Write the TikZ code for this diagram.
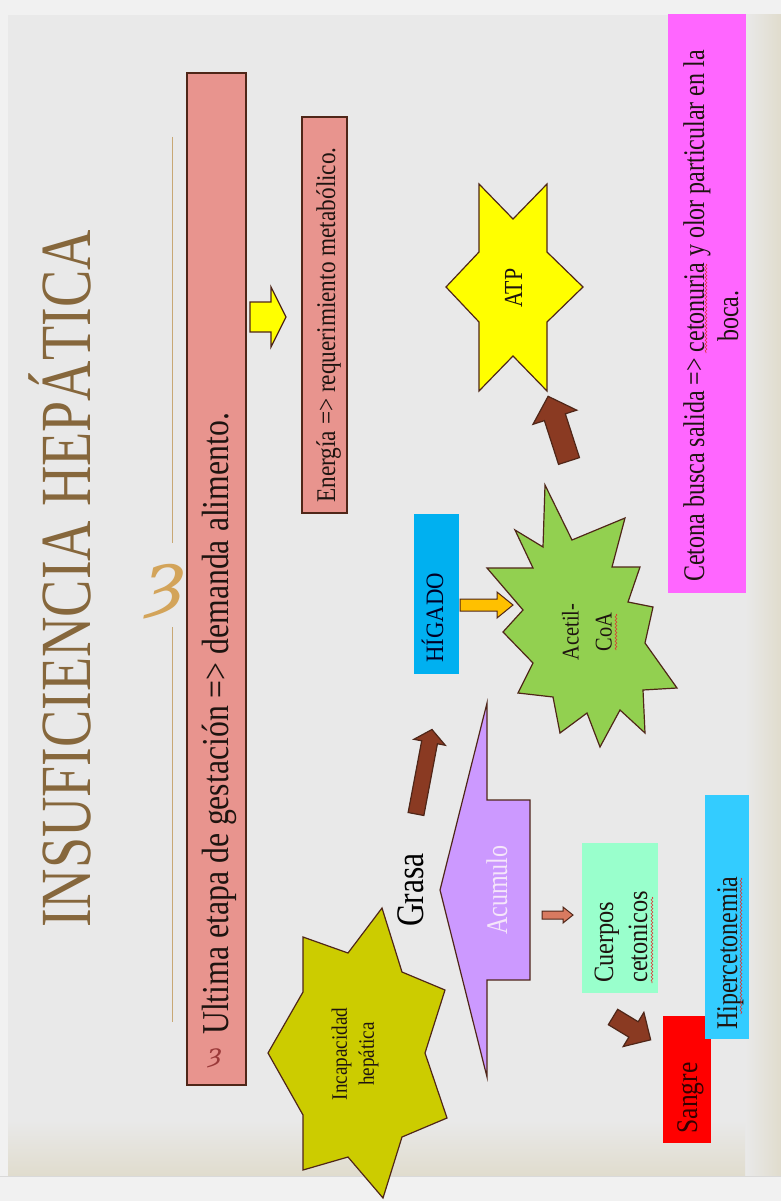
\documentclass[tikz,border=0pt]{standalone}
\usepackage{fontspec}
\setmainfont{Liberation Serif}
\newfontfamily\ornfont{DejaVu Serif}
\usetikzlibrary{positioning,decorations.pathmorphing}

\definecolor{pagegray}{HTML}{F1F1F1}
\definecolor{slidegray}{HTML}{E9E9E9}
\definecolor{beige}{HTML}{E0DCCD}
\definecolor{titlebrown}{HTML}{86673C}
\definecolor{gold}{HTML}{D3A45A}
\definecolor{rulegold}{HTML}{C8A875}
\definecolor{salmon}{HTML}{E8948E}
\definecolor{edgebrown}{HTML}{4F2618}
\definecolor{atpyellow}{HTML}{FFFF00}
\definecolor{cetonapink}{HTML}{FF66FF}
\definecolor{higadoblue}{HTML}{00B0F0}
\definecolor{orangearrow}{HTML}{FFC000}
\definecolor{acetilgreen}{HTML}{92D050}
\definecolor{acumulopurple}{HTML}{CC99FF}
\definecolor{acumulotext}{HTML}{F5E6FA}
\definecolor{brownarrow}{HTML}{8A3A22}
\definecolor{smallarrow}{HTML}{D87A60}
\definecolor{mint}{HTML}{99FFCC}
\definecolor{hiperblue}{HTML}{33CCFF}
\definecolor{sangrered}{HTML}{FF0000}
\definecolor{olive}{HTML}{CCCC00}
\definecolor{ink}{HTML}{1E1410}
\definecolor{bulletred}{HTML}{9B3A3A}
\definecolor{spellred}{HTML}{E03030}

% condensed text
\newcommand\cnd[2]{\scalebox{#1}[1]{#2}}
% block arrow: style, tail, angle, length, shaft half, head half, head length
\newcommand\blockarrow[7]{%
  \draw[#1, shift={(#2)}, rotate=#3] (0,-#5) -- ({#4-#7},-#5) -- ({#4-#7},-#6)
    -- (#4,0) -- ({#4-#7},#6) -- ({#4-#7},#5) -- (0,#5) -- cycle;}

\begin{document}
\begin{tikzpicture}[x=1pt,y=-1pt]

\tikzset{outline/.style = {draw=edgebrown, line width=1.2pt, line join=miter}}
\tikzset{box/.style = {inner sep=0pt, outer sep=0pt}}
\tikzset{txt/.style = {rotate=90, inner sep=0pt, text=ink}}
\tikzset{rule/.style = {draw=rulegold, line width=1pt}}
\tikzset{spell/.style = {draw=spellred, line width=0.6pt, decorate,
  decoration={snake, amplitude=0.9pt, segment length=3.5pt}}}

\useasboundingbox (0,0) rectangle (781,1201);

% background
\fill[pagegray] (0,0) rectangle (781,1201);
\fill[slidegray] (8,15) rectangle (781,1176);
\shade[left color=slidegray, right color=beige] (745,15) rectangle (781,1176);
\shade[top color=slidegray, bottom color=beige] (8,1120) rectangle (745,1176);
\draw[black!15, line width=1pt] (0,1176.5) -- (781,1176.5);

% title
\node[txt, text=titlebrown, font=\fontsize{72}{72}\selectfont, anchor=base] (title) at (90,579) {\cnd{.777}{INSUFICIENCIA HEPÁTICA}};
\draw[rule] (172,137) -- (172,543);
\draw[rule] (172,627) -- (172,1022);
\node[inner sep=0pt, text=gold, font=\ornfont\itshape\fontsize{74}{74}\selectfont] (orn) at (166,592) {ȝ};

% boxes
\node[box, outline, fill=salmon, minimum width=59pt, minimum height=1012pt] (ultimaBox) at (216.5,579) {};
\node[box, outline, fill=salmon, minimum width=45pt, minimum height=396pt] (energiaBox) at (324.5,315) {};
\node[box, fill=cetonapink, minimum width=78pt, minimum height=579pt] (cetonaBox) at (707,303.5) {};
\node[box, fill=higadoblue, minimum width=45pt, minimum height=160pt] (higadoBox) at (436.5,594) {};
\node[box, fill=mint, minimum width=76pt, minimum height=150pt] (cuerposBox) at (620,918) {};
\node[box, fill=sangrered, minimum width=48pt, minimum height=127pt] (sangreBox) at (687,1079.5) {};
\node[box, fill=hiperblue, minimum width=44pt, minimum height=244pt] (hiperBox) at (727,917) {};

% shapes
\draw[outline, fill=atpyellow] (479,184) -- (513,219) -- (547,184) -- (547,252) -- (583,287)
  -- (547,322) -- (547,391) -- (513,356) -- (479,391) -- (479,322) -- (446,287) -- (479,252) -- cycle;
\draw[outline, fill=acetilgreen] (545,485) -- (572,540) -- (625,518) -- (612,567) -- (640,567)
  -- (628,602) -- (653,607) -- (645,643) -- (677,688) -- (643,690) -- (645,733) -- (620,710)
  -- (600,747) -- (587,713) -- (560,733) -- (553,697) -- (518,693) -- (533,663) -- (503,632)
  -- (523,610) -- (487,568) -- (533,568) -- (515,530) -- (543,547) -- cycle;
\draw[outline, fill=acumulopurple] (487,703) -- (487,800) -- (530,800) -- (530,980) -- (487,980)
  -- (487,1077) -- (440,890) -- cycle;
\draw[outline, fill=olive] (382,908) -- (402,972) -- (445,990) -- (425,1053) -- (447,1118)
  -- (402,1137) -- (383,1198) -- (348,1157) -- (303,1170) -- (303,1115) -- (268,1053)
  -- (303,992) -- (303,937) -- (348,953) -- cycle;

% arrows
\coordinate (tailEnergia) at (250,317);
\coordinate (tailHigado) at (460,605);
\coordinate (tailGrasa) at (416,814);
\coordinate (tailATP) at (569,461);
\coordinate (tailCuerpos) at (542,915);
\coordinate (tailSangre) at (613,1017);
\blockarrow{outline, fill=atpyellow}{tailEnergia}{0}{36}{15}{30}{15}
\blockarrow{outline, line width=1pt, fill=orangearrow}{tailHigado}{0}{53}{6}{13}{16}
\blockarrow{outline, fill=brownarrow}{tailGrasa}{79.3}{86}{8}{16}{13}
\blockarrow{outline, fill=brownarrow}{tailATP}{107.9}{68}{11}{23}{22}
\blockarrow{outline, line width=1pt, fill=smallarrow}{tailCuerpos}{0}{31}{4}{8}{10}
\blockarrow{outline, fill=brownarrow}{tailSangre}{-31.2}{44}{9}{20}{20}

% texts
\node[inner sep=0pt, text=bulletred, font=\ornfont\itshape\fontsize{26}{26}\selectfont] (bullet) at (215,1058) {ȝ};
\node[txt, font=\fontsize{38}{38}\selectfont, anchor=base west] (ultima) at (228,1035) {\cnd{.835}{Ultima etapa de gestación => demanda alimento.}};
\node[txt, font=\fontsize{27}{27}\selectfont, anchor=base] (energia) at (335,325) {\cnd{.862}{Energía => requerimiento metabólico.}};
\node[txt, font=\fontsize{26}{26}\selectfont, anchor=base] (atp) at (522,288) {\cnd{.84}{ATP}};
\node[txt, text=black!85!blue, font=\fontsize{25}{25}\selectfont, anchor=base west] (higado) at (443,663) {\cnd{.91}{HÍGADO}};
\node[txt, align=center, font=\fontsize{24}{33}\selectfont] (acetil) at (587,632) {\cnd{.85}{Acetil-}\\\cnd{.85}{CoA}};
\node[txt, text=black, font=\fontsize{39}{39}\selectfont, anchor=base] (grasa) at (423,890) {\cnd{.81}{Grasa}};
\node[txt, text=acumulotext, font=\fontsize{30}{30}\selectfont, anchor=base] (acumulo) at (507,890) {\cnd{.80}{Acumulo}};
\node[txt, align=center, font=\fontsize{22}{27}\selectfont] (incapacidad) at (355,1054) {\cnd{.87}{Incapacidad}\\\cnd{.87}{hepática}};
\node[txt, align=left, font=\fontsize{28}{34}\selectfont, anchor=west] (cuerpos) at (621,983) {\cnd{.87}{Cuerpos}\\\cnd{.87}{cetonicos}};
\node[txt, font=\fontsize{30}{30}\selectfont, anchor=base west] (hiper) at (737,1030) {\cnd{.80}{Hipercetonemia}};
\node[txt, text=black!80!red, font=\fontsize{30}{30}\selectfont, anchor=base] (sangre) at (697,1098) {\cnd{.85}{Sangre}};
\node[txt, align=center, font=\fontsize{30}{34}\selectfont] (cetona) at (711,316) {\cnd{.80}{Cetona busca salida => cetonuria y olor particular en la}\\\cnd{.80}{boca.}};

% spell-check marks
\draw[spell] (616,614) -- (616,650);
\draw[spell] (652,897) -- (652,983);
\draw[spell] (741,878) -- (741,1014);
\draw[spell] (706,264) -- (706,353);

\end{tikzpicture}
\end{document}
